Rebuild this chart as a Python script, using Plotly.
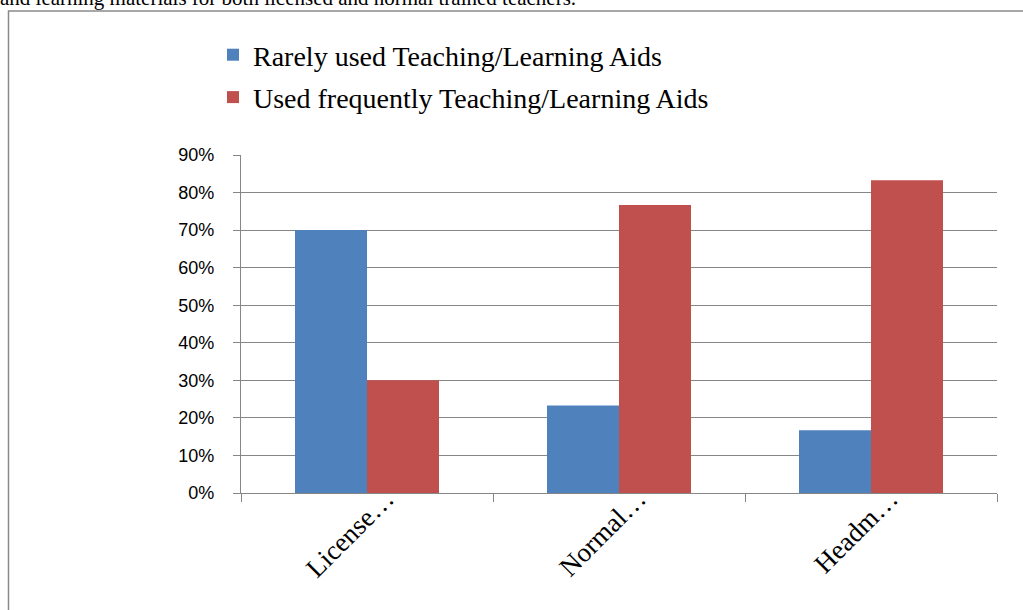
import plotly.graph_objects as go

categories = ["License…", "Normal…", "Headm…"]
series_names = ["Rarely used Teaching/Learning Aids", "Used frequently Teaching/Learning Aids"]
rarely_used = [0.70, 0.233, 0.167]
used_frequently = [0.30, 0.767, 0.833]
y_ticks = [0, 0.1, 0.2, 0.3, 0.4, 0.5, 0.6, 0.7, 0.8, 0.9]
y_tick_labels = ["0%", "10%", "20%", "30%", "40%", "50%", "60%", "70%", "80%", "90%"]
caption = "and learning materials for both licensed and normal trained teachers."

W, H = 1023, 610
L, R, T, B = 241, 26, 155, 117
pw, ph = W - L - R, H - T - B

def px_x(x):
    return (x - L) / pw

def px_y(y):
    return (H - B - y) / ph

grid = "#868686"
serif = "Liberation Serif, Times New Roman, serif"
sans = "Liberation Sans, Arial, sans-serif"

fig = go.Figure()
fig.add_trace(go.Bar(x=categories, y=rarely_used, name=series_names[0],
                     marker=dict(color="#4F81BD", line=dict(width=0)), legendgroup="a"))
fig.add_trace(go.Bar(x=categories, y=used_frequently, name=series_names[1],
                     marker=dict(color="#C0504D", line=dict(width=0)), legendgroup="b"))

fig.update_layout(
    width=W, height=H,
    margin=dict(l=L, r=R, t=T, b=B, pad=0),
    paper_bgcolor="white", plot_bgcolor="white",
    barmode="group", bargap=0.4286, bargroupgap=0,
    showlegend=True,
    legend=dict(x=px_x(213), y=px_y(30), xanchor="left", yanchor="top",
                font=dict(family=serif, size=28, color="black"),
                bgcolor="rgba(0,0,0,0)", tracegroupgap=3, traceorder="grouped"),
    xaxis=dict(type="category", showgrid=False, showline=True, linecolor=grid, linewidth=1.3,
               ticks="outside", tickson="boundaries", ticklen=8, tickcolor=grid, tickwidth=1.3,
               tickangle=-45, tickfont=dict(family=serif, size=27, color="black"),
               ticklabelshift=19, ticklabelstandoff=-22),
    yaxis=dict(range=[0, 0.9], tickvals=y_ticks, ticktext=y_tick_labels,
               showgrid=True, gridcolor=grid, gridwidth=1.3, zeroline=False,
               showline=True, linecolor=grid, linewidth=1.3,
               ticks="outside", ticklen=7, tickcolor=grid, tickwidth=1.3,
               tickfont=dict(family=sans, size=18, color="black"), ticklabelstandoff=15),
)

fig.add_shape(type="rect", xref="paper", yref="paper",
              x0=px_x(8.5), x1=px_x(1040), y0=px_y(11), y1=px_y(630),
              line=dict(color="#8a8a8a", width=1.5), fillcolor="rgba(0,0,0,0)", layer="below")

fig.add_annotation(text=caption, xref="paper", yref="paper", x=px_x(-2), y=px_y(12),
                   xanchor="left", yanchor="bottom", showarrow=False,
                   font=dict(family=serif, size=21, color="black"))

fig.write_html("out.html", config={"displayModeBar": False},
               post_script="document.body.style.margin='0';document.body.style.overflow='hidden';")
